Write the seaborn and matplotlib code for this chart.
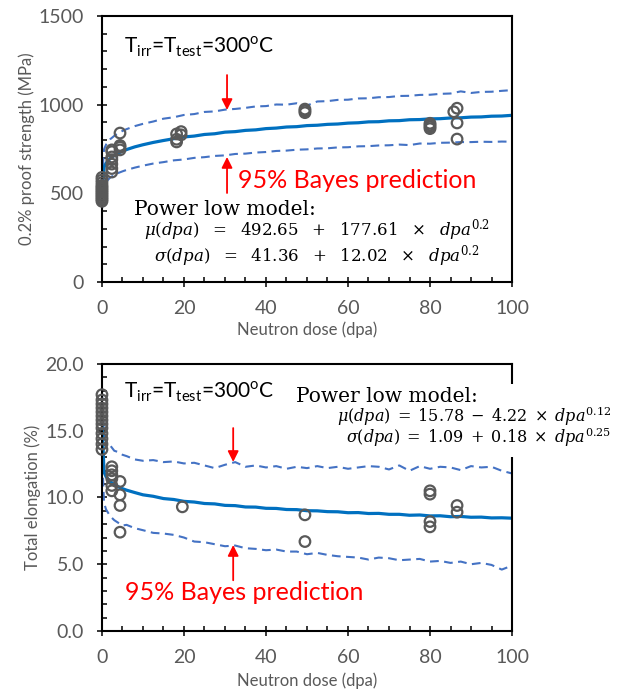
import matplotlib
matplotlib.use("Agg")
import matplotlib.pyplot as plt
import seaborn as sns
import pandas as pd
from matplotlib.ticker import MultipleLocator, FormatStrFormatter

# ---------------- data ----------------
DPA = [0, 0.5, 1, 2, 3, 4, 5, 6, 8, 10, 12.5, 15, 17.5, 20, 22.5, 25, 27.5, 30,
       32.5, 35, 37.5, 40, 42.5, 45, 47.5, 50, 52.5, 55, 57.5, 60, 62.5, 65,
       67.5, 70, 72.5, 75, 77.5, 80, 82.5, 85, 87.5, 90, 92.5, 95, 97.5, 100]

# 0.2% proof strength (MPa)
MU_TOP = [493, 647, 670, 697, 714, 727, 738, 747, 762, 774, 787, 798, 808, 818,
          823, 832, 836, 845, 848, 855, 858, 865, 868, 874, 876, 882, 884, 889,
          891, 896, 898, 903, 904, 909, 910, 915, 916, 920, 921, 925, 926, 930,
          931, 935, 936, 940]
UP_TOP = [574, 748, 775, 805, 824, 839, 852, 862, 879, 892, 905, 921, 929, 942,
          947, 959, 962, 972, 976, 982, 990, 992, 1001, 1000, 1008, 995, 1018,
          1020, 1027, 1028, 1035, 1036, 1042, 1043, 1049, 1050, 1055, 1056,
          1061, 1063, 1075, 1066, 1072, 1073, 1078, 1082]
LO_TOP = [412, 546, 565, 589, 604, 615, 624, 632, 645, 656, 668, 676, 686, 691,
          700, 704, 711, 714, 722, 724, 730, 733, 739, 741, 746, 748, 753, 754,
          759, 760, 765, 766, 770, 771, 775, 772, 781, 780, 785, 786, 789, 789,
          791, 790, 792, 791]

# Total elongation (%)
MU_BOT = [15.78, 11.90, 11.56, 11.19, 10.97, 10.80, 10.66, 10.55, 10.37, 10.20,
          10.09, 9.92, 9.85, 9.71, 9.66, 9.55, 9.52, 9.41, 9.39, 9.29, 9.28,
          9.19, 9.18, 9.10, 9.09, 9.01, 9.00, 8.94, 8.93, 8.86, 8.87, 8.80,
          8.81, 8.74, 8.74, 8.67, 8.69, 8.62, 8.63, 8.56, 8.58, 8.52, 8.53,
          8.47, 8.48, 8.45]
UP_BOT = [17.9, 14.5, 14.2, 13.9, 13.5, 13.4, 13.2, 13.1, 12.85, 12.75, 12.8,
          12.65, 12.7, 12.55, 12.6, 12.4, 12.2, 12.45, 12.65, 12.3, 12.4, 12.25,
          12.35, 12.15, 12.3, 12.2, 12.35, 12.2, 12.3, 12.15, 12.25, 12.35,
          12.3, 12.1, 12.4, 12.0, 12.35, 12.15, 12.3, 12.25, 12.05, 12.35,
          12.25, 12.3, 12.0, 11.8]
LO_BOT = [13.6, 9.6, 9.1, 8.6, 8.3, 8.1, 7.9, 7.95, 7.7, 7.55, 7.35, 7.3, 7.2,
          7.0, 6.7, 6.65, 6.5, 6.35, 6.4, 6.2, 6.15, 6.05, 6.1, 5.95, 5.95,
          5.75, 5.85, 5.7, 5.6, 5.55, 5.5, 5.35, 5.5, 5.45, 5.3, 5.35, 5.4, 5.2,
          5.25, 5.1, 5.2, 5.0, 5.1, 4.95, 4.6, 4.9]

# Experimental points
X_TS = [0] * 13 + [2.4] * 7 + [4.4] * 4 + [18.2] * 3 + [19.3] * 2 + [49.5] * 3 \
       + [80] * 4 + [85.8, 86.6, 86.6, 86.6]
Y_TS = [455, 465, 475, 485, 495, 505, 515, 525, 535, 545, 560, 575, 590,
        620, 640, 665, 690, 705, 735, 745,
        745, 760, 770, 840,
        790, 805, 835,
        830, 848,
        955, 965, 975,
        865, 875, 885, 895,
        960, 980, 897, 806]

X_BS = [0] * 13 + [2.4] * 6 + [4.4] * 4 + [19.6] + [49.5] * 2 + [80] * 4 + [86.6] * 2
Y_BS = [13.6, 14.0, 14.4, 14.8, 15.2, 15.5, 15.8, 16.1, 16.4, 16.7, 17.0, 17.3, 17.7,
        12.3, 12.0, 11.7, 11.4, 10.9, 10.5,
        11.2, 10.2, 9.4, 7.4,
        9.3,
        8.7, 6.7,
        10.5, 10.25, 8.2, 7.8,
        9.4, 8.9]

# ---------------- style ----------------
sns.set_theme(style="white")
plt.rcParams['font.family'] = ['Lato', 'DejaVu Sans']

SOLID = '#0070C0'
DASH = '#4472C4'
GREY = '#595959'
RED = '#FF0000'

fig = plt.figure(figsize=(6.18, 6.9), dpi=100)
ax1 = fig.add_axes([0.165, 0.5913, 0.6635, 0.3855])
ax2 = fig.add_axes([0.165, 0.0855, 0.6635, 0.387])


def draw(ax, mu, up, lo, xs, ys):
    df = pd.DataFrame({'dpa': DPA, 'mu': mu, 'up': up, 'lo': lo})
    for col in ('up', 'lo'):
        sns.lineplot(data=df, x='dpa', y=col, ax=ax, color=DASH, lw=1.5,
                     linestyle=(0, (4.2, 2.6)), estimator=None, sort=False)
    sns.lineplot(data=df, x='dpa', y='mu', ax=ax, color=SOLID, lw=2.3,
                 estimator=None, sort=False)
    sp = pd.DataFrame({'dpa': xs, 'val': ys})
    sns.scatterplot(data=sp, x='dpa', y='val', ax=ax, s=58, facecolor='none',
                    edgecolor=GREY, linewidth=1.6, clip_on=False, zorder=5)


def style(ax, ymax, ymaj, ymin, fmt):
    ax.set_xlim(0, 100)
    ax.set_ylim(0, ymax)
    ax.xaxis.set_major_locator(MultipleLocator(20))
    ax.xaxis.set_minor_locator(MultipleLocator(5))
    ax.yaxis.set_major_locator(MultipleLocator(ymaj))
    ax.yaxis.set_minor_locator(MultipleLocator(ymin))
    ax.yaxis.set_major_formatter(FormatStrFormatter(fmt))
    for s in ax.spines.values():
        s.set_visible(True)
        s.set_color('black')
        s.set_linewidth(1.5)
    ax.tick_params(which='major', direction='inout', length=7, width=1.1,
                   color='black', labelsize=14, labelcolor=GREY, pad=9.5,
                   left=True, bottom=True)
    ax.tick_params(which='minor', direction='in', length=3.5, width=1.1,
                   color='black', left=True, bottom=True)
    ax.set_xlabel('Neutron dose (dpa)', fontsize=12, color=GREY)


draw(ax1, MU_TOP, UP_TOP, LO_TOP, X_TS, Y_TS)
style(ax1, 1500, 500, 100, '%d')
ax1.set_ylabel('0.2% proof strength (MPa)', fontsize=12, color=GREY)
ax1.yaxis.set_label_coords(-0.163, 0.5)
ax1.xaxis.set_label_coords(0.5, -0.147)

draw(ax2, MU_BOT, UP_BOT, LO_BOT, X_BS, Y_BS)
style(ax2, 20, 5, 1, '%.1f')
ax2.set_ylabel('Total elongation (%)', fontsize=12, color=GREY)
ax2.yaxis.set_label_coords(-0.148, 0.5)
ax2.xaxis.set_label_coords(0.5, -0.157)

# ---------------- annotations ----------------
TLAB = r'T$_\mathregular{irr}$=T$_\mathregular{test}$=300$^\mathregular{o}$C'
ax1.text(5.3, 1290, TLAB, fontsize=15, color='black', va='baseline')
ax2.text(5.3, 17.45, TLAB, fontsize=15, color='black', va='baseline')

ax1.text(33.2, 530, '95% Bayes prediction', fontsize=18, color=RED, va='baseline')
ax2.text(5.6, 2.32, '95% Bayes prediction', fontsize=18, color=RED, va='baseline')

arr = dict(arrowstyle='-|>', color=RED, lw=1.3, mutation_scale=16, shrinkA=0, shrinkB=0)
ax1.annotate('', xy=(30.5, 970), xytext=(30.5, 1167), arrowprops=arr)
ax1.annotate('', xy=(30.5, 705), xytext=(30.5, 502), arrowprops=arr)
ax2.annotate('', xy=(32, 12.66), xytext=(32, 15.2), arrowprops=arr)
ax2.annotate('', xy=(32, 6.44), xytext=(32, 3.8), arrowprops=arr)

SERIF = 'DejaVu Serif'
SP = r'\enspace\,'
EQ_TOP_MU = (r'$\mu(dpa)' + SP + '=' + SP + '492.65' + SP + '+' + SP + '177.61'
             + SP + r'\times' + SP + r'dpa^{0.2}$')
EQ_TOP_SG = (r'$\sigma(dpa)' + SP + '=' + SP + '41.36' + SP + '+' + SP + '12.02'
             + SP + r'\times' + SP + r'dpa^{0.2}$')
EQ_BOT_MU = r'$\mu(dpa)\;=\;15.78\;-\;4.22\;\times\;dpa^{0.12}$'
EQ_BOT_SG = r'$\sigma(dpa)\;=\;1.09\;+\;0.18\;\times\;dpa^{0.25}$'

ax1.text(7.8, 380, 'Power low model:', fontsize=14.5, family=SERIF,
         color='black', va='baseline')
ax1.text(52.4, 262, EQ_TOP_MU, fontsize=12, math_fontfamily='dejavuserif',
         ha='center', va='baseline', color='black')
ax1.text(52.4, 118, EQ_TOP_SG, fontsize=12, math_fontfamily='dejavuserif',
         ha='center', va='baseline', color='black')

ax2.add_patch(plt.Rectangle((46.5, 13.0), 80, 5.5, facecolor='white', edgecolor='none',
                            transform=ax2.transData, clip_on=False, zorder=5))
ax2.text(47.2, 17.15, 'Power low model:', fontsize=14.5, family=SERIF,
         color='black', va='baseline', zorder=6, clip_on=False)
ax2.text(124.2, 15.62, EQ_BOT_MU, fontsize=11.5, math_fontfamily='dejavuserif',
         ha='right', va='baseline', color='black', clip_on=False, zorder=6)
ax2.text(124.2, 14.05, EQ_BOT_SG, fontsize=11.5, math_fontfamily='dejavuserif',
         ha='right', va='baseline', color='black', clip_on=False, zorder=6)

fig.savefig('out.png', dpi=100)
